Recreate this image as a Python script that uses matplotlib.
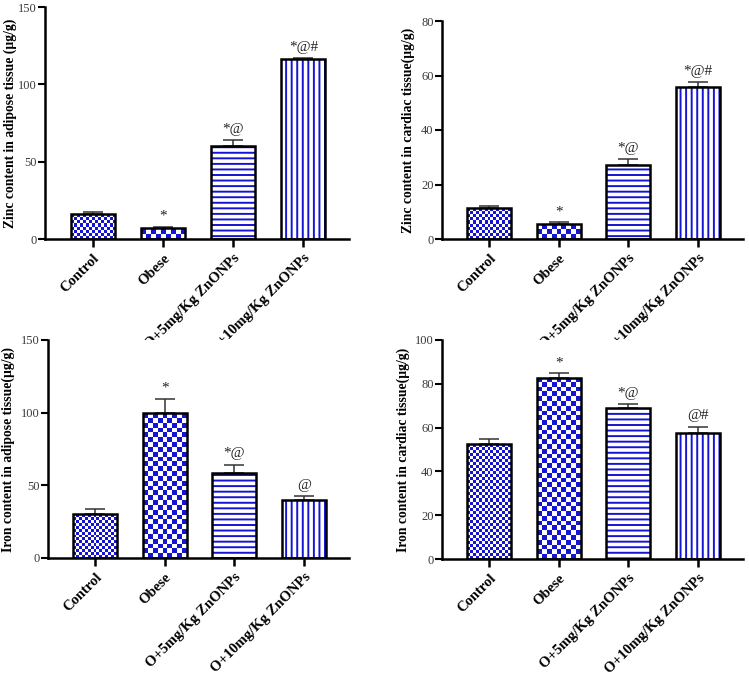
import numpy as np
import matplotlib
matplotlib.use("Agg")
import matplotlib.pyplot as plt

plt.rcParams['font.family'] = ['Liberation Serif', 'DejaVu Serif']
plt.rcParams['hatch.linewidth'] = 1.4

groups = ["Control", "Obese", "O+5mg/Kg ZnONPs", "O+10mg/Kg ZnONPs"]

zinc_adipose = [16.1, 6.9, 60.4, 116.3]
zinc_adipose_err = [1.1, 0.8, 3.4, 0.8]
zinc_adipose_sig = ["", "*", "*@", "*@#"]

zinc_cardiac = [11.2, 5.5, 27.1, 55.6]
zinc_cardiac_err = [0.8, 0.6, 2.2, 2.0]
zinc_cardiac_sig = ["", "*", "*@", "*@#"]

iron_adipose = [30.2, 99.6, 58.8, 39.6]
iron_adipose_err = [3.5, 10.1, 5.5, 3.2]
iron_adipose_sig = ["", "*", "*@", "@"]

iron_cardiac = [52.3, 82.8, 68.9, 57.6]
iron_cardiac_err = [2.4, 2.0, 2.0, 2.9]
iron_cardiac_sig = ["", "*", "*@", "@#"]

panels = [
    dict(vals=zinc_adipose, err=zinc_adipose_err, sig=zinc_adipose_sig,
         ylabel="Zinc content in adipose tissue (\u00b5g/g)", ymax=150, step=50,
         rect=[45/749, 1-239/676, 304/749, 232/676], labx=-0.093),
    dict(vals=zinc_cardiac, err=zinc_cardiac_err, sig=zinc_cardiac_sig,
         ylabel="Zinc content in cardiac tissue(\u00b5g/g)", ymax=80, step=20,
         rect=[442/749, 1-239/676, 301/749, 218/676], labx=-0.09),
    dict(vals=iron_adipose, err=iron_adipose_err, sig=iron_adipose_sig,
         ylabel="Iron content in adipose tissue(\u00b5g/g)", ymax=150, step=50,
         rect=[48/749, 1-558/676, 301/749, 218/676], labx=-0.108),
    dict(vals=iron_cardiac, err=iron_cardiac_err, sig=iron_cardiac_sig,
         ylabel="Iron content in cardiac tissue(\u00b5g/g)", ymax=100, step=20,
         rect=[442/749, 1-559/676, 301/749, 219/676], labx=-0.106),
]

BLUE = '#1414d2'
fig = plt.figure(figsize=(7.49, 6.76), dpi=100)
cmap = matplotlib.colors.ListedColormap(['white', BLUE])


def checker_fill(ax, bar, cell_px):
    x0, y0 = bar.get_x(), bar.get_y()
    w, h = bar.get_width(), bar.get_height()
    p0 = ax.transData.transform((x0, y0))
    p1 = ax.transData.transform((x0 + w, y0 + h))
    nx = max(1, int(round(abs(p1[0] - p0[0]) / cell_px)))
    ny = max(1, int(round(abs(p1[1] - p0[1]) / cell_px)))
    ii, jj = np.indices((ny, nx))
    img = ((ii + jj) % 2).astype(float)
    im = ax.imshow(img, extent=(x0, x0 + w, y0, y0 + h), origin='lower',
                   cmap=cmap, vmin=0, vmax=1, interpolation='nearest',
                   aspect='auto', zorder=1.5)
    im.set_clip_path(bar)


W = 0.63
for p in panels:
    ax = fig.add_axes(p['rect'])
    x = np.arange(len(groups))
    ax.set_xlim(-0.68, 3.65)
    ax.set_ylim(0, p['ymax'])
    fills = ax.bar(x, p['vals'], width=W, color='white', edgecolor=BLUE,
                   linewidth=0, zorder=1.4)
    fills[2].set_hatch('---')
    fills[3].set_hatch('|||')
    ax.errorbar(x, p['vals'], yerr=[np.zeros(4), p['err']], fmt='none',
                ecolor='#333333', elinewidth=1.1, capsize=7, capthick=1.1, zorder=1)
    fig.canvas.draw()
    checker_fill(ax, fills[0], 3.0)
    checker_fill(ax, fills[1], 4.8)
    ax.bar(x, p['vals'], width=W, color='none', edgecolor='black',
           linewidth=1.8, zorder=3)
    for xi, v, e, s in zip(x, p['vals'], p['err'], p['sig']):
        if s:
            ax.annotate(s, (xi, v + e), xytext=(0, 3), textcoords='offset points',
                        ha='center', va='bottom', fontsize=11, color='#222222')
    for side in ['top', 'right']:
        ax.spines[side].set_visible(False)
    for side in ['left', 'bottom']:
        ax.spines[side].set_linewidth(1.8)
    ax.set_yticks(np.arange(0, p['ymax'] + 1, p['step']))
    ax.tick_params(axis='y', length=5, width=1.5, labelsize=9, pad=1,
                   labelcolor='#3a3a3a')
    ax.set_xticks(x)
    ax.set_xticklabels(groups, rotation=45, ha='right', rotation_mode='anchor',
                       fontsize=10.5, fontweight='bold')
    ax.tick_params(axis='x', length=6, width=1.8, pad=3)
    ax.set_ylabel(p['ylabel'], fontsize=9.8, fontweight='bold')
    ax.yaxis.set_label_coords(p['labx'], 0.5)

fig.savefig('out.png', dpi=100)
